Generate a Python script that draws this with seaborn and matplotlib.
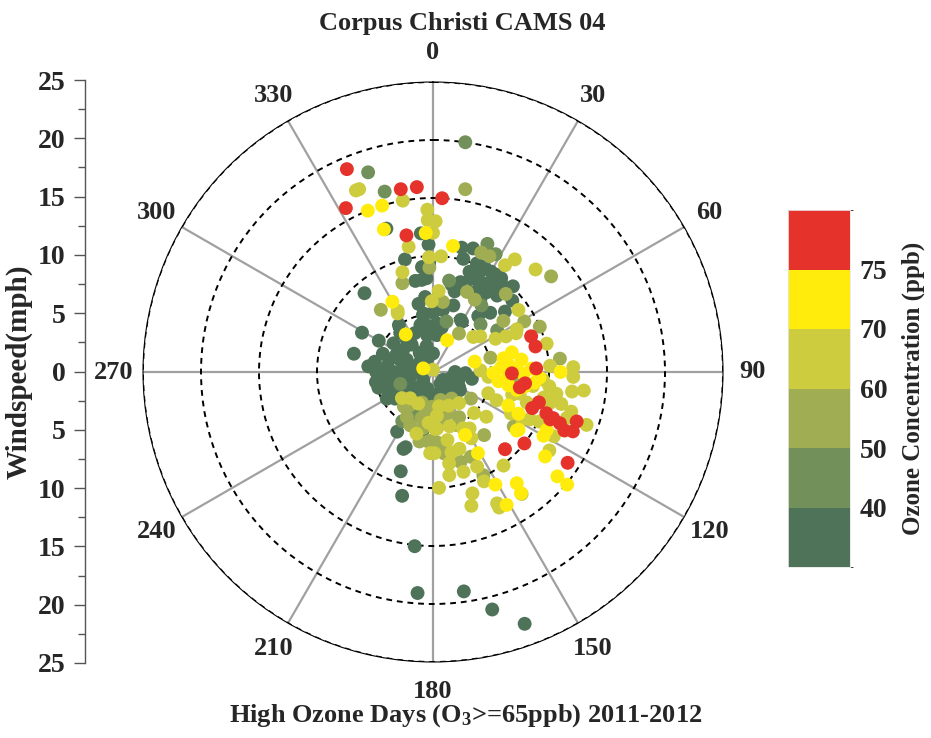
import numpy as np
import pandas as pd
import seaborn as sns
import matplotlib.pyplot as plt
from matplotlib.colors import ListedColormap, BoundaryNorm
from matplotlib.cm import ScalarMappable

# =========================================================
# DATA  (wind direction in degrees, wind speed in mph, ozone in ppb)
# =========================================================

# ozone < 40
dir_dark = [342, 355, 358, 13, 346, 15, 354, 349, 353, 319,
            351, 7, 9, 350, 0, 324, 30, 299, 283, 345,
            354, 5, 11, 335, 351, 6, 270, 260, 254, 277,
            286, 295, 307, 322, 270, 273, 285, 256, 255, 257,
            244, 240, 228, 211, 187, 235, 200, 148, 128, 110,
            90, 108, 92, 325, 346, 0, 295, 308, 318, 321,
            306, 320, 280, 270, 230, 265, 250, 290, 262, 248,
            300, 275, 240, 220, 290, 340, 120, 135, 160, 100,
            211, 200, 190, 201, 198, 194, 186, 184, 172, 166,
            160, 22, 26, 30, 33, 22, 27, 17, 12, 31,
            35, 36, 43, 48, 50, 17, 28, 39, 358, 356,
            354, 348, 0, 11, 34, 29, 15, 44, 20, 25,
            38, 24, 33, 40, 18, 138, 124]
spd_dark = [13.0, 12.0, 11.0, 11.0, 10.0, 10.1, 9.1, 8.0, 8.0, 9.0,
            5.1, 6.0, 5.4, 5.0, 5.1, 5.0, 5.0, 7.0, 7.0, 4.2,
            4.0, 4.2, 3.9, 3.7, 3.2, 3.2, 4.9, 5.0, 4.9, 4.0,
            3.9, 3.5, 3.2, 3.0, 3.4, 2.6, 1.8, 2.9, 2.1, 3.8,
            3.5, 2.8, 2.1, 2.2, 2.0, 4.0, 1.5, 1.2, 1.1, 1.6,
            1.9, 2.3, 2.8, 2.0, 2.3, 1.6, 2.5, 1.4, 0.8, 3.6,
            4.2, 4.4, 5.1, 1.4, 1.1, 4.3, 4.2, 4.6, 3.3, 2.5,
            5.4, 5.6, 4.6, 3.2, 3.0, 1.3, 2.6, 2.0, 1.8, 3.4,
            6.0, 6.9, 5.1, 7.1, 9.0, 11.0, 15.1, 19.1, 19.1, 21.1,
            23.1, 10.1, 10.1, 10.0, 10.0, 8.7, 8.7, 8.1, 7.7, 8.9,
            9.0, 10.0, 10.1, 9.2, 8.1, 6.0, 5.1, 6.2, 9.4, 8.1,
            6.5, 6.0, 3.6, 4.0, 8.3, 8.0, 7.2, 7.1, 9.2, 9.5,
            9.6, 7.6, 7.5, 8.6, 11.2, 1.3, 2.8]
oz_dark = [38, 38, 36, 38, 37, 38, 36, 38, 37, 35,
           38, 36, 38, 38, 37, 36, 38, 35, 34, 37,
           38, 36, 38, 37, 36, 38, 36, 35, 37, 36,
           38, 37, 36, 38, 37, 38, 36, 37, 38, 36,
           37, 38, 36, 37, 38, 36, 38, 37, 36, 38,
           37, 38, 36, 37, 38, 36, 37, 38, 36, 37,
           38, 36, 37, 38, 36, 37, 36, 38, 37, 36,
           38, 35, 37, 38, 36, 37, 38, 36, 37, 38,
           37, 38, 36, 37, 36, 37, 35, 36, 37, 36,
           38, 38, 37, 36, 38, 37, 36, 38, 37, 38,
           36, 37, 38, 37, 36, 38, 37, 36, 38, 37,
           36, 38, 37, 38, 36, 37, 38, 37, 36, 38,
           37, 36, 38, 37, 36, 38, 37]

# 40 - 50
dir_green = [8, 342, 345, 23, 36, 57, 212, 10, 28, 45, 15, 250, 200]
spd_green = [20.0, 18.1, 16.1, 12.0, 7.1, 6.6, 5.0, 8.0, 11.5, 5.8, 4.5, 3.0, 4.0]
oz_green = [46, 44, 45, 45, 46, 45, 46, 48, 46, 44, 47, 45, 46]

# 50 - 60
dir_olivegreen = [10, 22, 26, 358, 341, 320, 23, 30, 8, 51,
                  43, 61, 67, 54, 76, 34, 203, 156, 141, 191,
                  184, 178, 174, 172, 156, 163, 154, 124, 220, 194,
                  190, 181, 96, 84, 215, 182, 160, 150, 125, 170,
                  200, 190, 165, 145, 210]
spd_olivegreen = [16.0, 11.1, 11.1, 9.0, 8.1, 7.0, 7.5, 7.2, 6.1, 13.1,
                  9.2, 9.0, 10.0, 7.5, 5.1, 4.0, 5.0, 5.0, 7.0, 6.1,
                  6.0, 6.0, 6.2, 7.1, 8.0, 8.1, 9.9, 8.4, 3.9, 4.1,
                  4.9, 5.9, 7.0, 11.0, 3.5, 3.0, 3.8, 4.5, 4.0, 4.5,
                  2.8, 3.6, 2.5, 2.8, 4.5]
oz_olivegreen = [55, 55, 56, 55, 58, 55, 55, 55, 55, 58,
                 55, 58, 55, 55, 58, 58, 55, 55, 55, 55,
                 55, 56, 55, 58, 55, 55, 55, 55, 58, 58,
                 58, 58, 57, 57, 55, 56, 55, 57, 56, 55,
                 56, 57, 55, 58, 56]

# 60 - 70
dir_olive = [337, 338, 350, 358, 358, 1, 0, 349, 358, 4,
             343, 4, 330, 359, 329, 36, 34, 45, 54, 65,
             76, 49, 63, 64, 62, 53, 88, 92, 88, 95,
             98, 94, 97, 100, 103, 108, 104, 106, 114, 111,
             118, 116, 115, 109, 106, 105, 87, 97, 98, 104,
             109, 118, 118, 124, 143, 144, 154, 162, 164, 154,
             177, 152, 221, 178, 176, 163, 147, 182, 179, 167,
             161, 170, 155, 171, 163, 0, 155, 205, 230, 170,
             140, 175, 185, 155, 195, 168, 150, 135, 130]
spd_olive = [17.0, 17.0, 15.0, 14.0, 13.1, 13.0, 12.0, 11.0, 9.9, 10.0,
             9.0, 7.0, 6.1, 6.1, 5.9, 12.0, 11.1, 12.5, 9.1, 7.9,
             10.1, 4.6, 8.1, 7.0, 6.1, 5.1, 12.1, 12.1, 4.1, 4.8,
             8.7, 9.5, 10.1, 10.8, 9.8, 8.5, 7.7, 7.1, 6.0, 5.1,
             8.7, 9.3, 10.1, 12.2, 12.4, 10.4, 10.1, 13.1, 12.1, 11.4,
             14.0, 11.8, 7.6, 12.1, 10.1, 13.0, 13.0, 11.0, 12.0, 12.6,
             10.0, 5.5, 3.0, 4.9, 4.9, 4.9, 5.8, 7.0, 7.0, 7.1,
             7.0, 8.0, 9.0, 9.0, 9.0, 0.2, 10.4, 3.0, 3.5, 3.0,
             3.5, 3.8, 4.4, 3.2, 5.5, 6.0, 6.6, 5.0, 6.0]
oz_olive = [65, 62, 65, 65, 65, 63, 65, 65, 65, 65,
            65, 65, 65, 65, 64, 65, 62, 65, 65, 65,
            65, 65, 65, 64, 65, 66, 65, 62, 65, 64,
            65, 65, 66, 65, 64, 65, 65, 63, 65, 65,
            65, 64, 65, 65, 65, 66, 65, 65, 64, 65,
            65, 65, 64, 65, 65, 65, 65, 65, 65, 65,
            65, 65, 65, 65, 65, 62, 65, 65, 62, 62,
            65, 65, 65, 65, 65, 65, 62, 64, 62, 63,
            64, 65, 63, 64, 65, 62, 65, 64, 65]

# 70 - 75
dir_yellow = [338, 343, 341, 357, 9, 330, 324, 24, 290, 76,
              79, 86, 82, 88, 93, 90, 91, 98, 100, 99,
              114, 116, 117, 124, 120, 91, 76, 127, 130, 130,
              143, 144, 151, 151, 151, 153, 125, 84, 95, 88,
              102, 96]
spd_yellow = [15.0, 15.0, 13.0, 12.0, 11.0, 7.0, 4.0, 3.0, 0.9, 7.0,
              6.2, 5.9, 7.7, 7.2, 9.2, 11.0, 5.2, 5.7, 6.6, 8.0,
              7.1, 8.2, 11.0, 8.9, 11.0, 7.8, 3.7, 12.1, 14.0, 15.1,
              12.0, 12.9, 11.1, 13.1, 8.0, 6.1, 8.8, 6.5, 6.4, 8.5,
              7.4, 8.8]
oz_yellow = [72, 72, 73, 72, 72, 73, 72, 72, 73, 72,
             73, 72, 72, 74, 72, 73, 72, 72, 74, 72,
             73, 72, 72, 73, 72, 74, 72, 72, 73, 72,
             72, 73, 72, 72, 73, 72, 72, 73, 74, 73,
             72, 73]

# >= 75
dir_red = [337, 350, 355, 3, 332, 349, 70, 76, 91, 88,
           110, 106, 110, 111, 112, 114, 113, 109, 112, 128,
           137, 124, 100, 97]
spd_red = [19.0, 16.0, 16.0, 15.0, 16.0, 12.0, 9.0, 9.1, 6.8, 8.9,
           9.1, 9.5, 10.4, 11.1, 11.8, 12.4, 13.1, 13.1, 10.9, 10.0,
           9.1, 14.0, 7.6, 8.0]
oz_red = [78, 78, 77, 78, 80, 78, 78, 78, 77, 78,
          78, 78, 79, 78, 78, 79, 80, 78, 77, 80,
          78, 78, 77, 78]

band_edges = [30, 40, 50, 60, 70, 75, 80]
band_ticks = [40, 50, 60, 70, 75]
band_colors = ["#4f7359", "#71905a", "#a0ad52", "#cdcc3f", "#ffec0c", "#e5332b"]
angle_labels = ["0", "30", "60", "90", "120", "150",
                "180", "210", "240", "270", "300", "330"]

# =========================================================
# STYLE
# =========================================================

sns.set_style("white")
plt.rcParams["font.family"] = ["Liberation Serif", "DejaVu Serif"]
plt.rcParams["font.weight"] = "bold"
plt.rcParams["mathtext.fontset"] = "custom"
plt.rcParams["mathtext.rm"] = "Liberation Serif:bold"
plt.rcParams["mathtext.it"] = "Liberation Serif:bold"
plt.rcParams["mathtext.bf"] = "Liberation Serif:bold"

df = pd.DataFrame({
    "direction": dir_dark + dir_green + dir_olivegreen + dir_olive + dir_yellow + dir_red,
    "speed": spd_dark + spd_green + spd_olivegreen + spd_olive + spd_yellow + spd_red,
    "ozone": oz_dark + oz_green + oz_olivegreen + oz_olive + oz_yellow + oz_red,
})
df["theta"] = np.deg2rad(df["direction"])
df["band"] = pd.cut(df["ozone"], band_edges, labels=False).astype(int)

# =========================================================
# POLAR SCATTER
# =========================================================

fig = plt.figure(figsize=(9.31, 7.38), dpi=100)

ax = fig.add_axes([143 / 931, 76 / 738, 580 / 931, 580 / 738], projection="polar")

sns.scatterplot(
    data=df,
    x="theta",
    y="speed",
    hue="band",
    palette=dict(enumerate(band_colors)),
    s=100,
    linewidth=0,
    legend=False,
    ax=ax,
    zorder=3
)

ax.set_xlabel("")
ax.set_ylabel("")
ax.set_theta_zero_location("N")
ax.set_theta_direction(-1)
ax.set_ylim(0, 25)
ax.set_yticks([5, 10, 15, 20, 25])
ax.set_yticklabels([])
ax.set_xticks(np.deg2rad(np.arange(0, 360, 30)))
ax.set_xticklabels(angle_labels, fontsize=19, fontweight="bold")
ax.set_xticks(np.deg2rad(np.arange(0, 360, 10)), minor=True)
ax.tick_params(axis="x", which="major", pad=14, length=0)
ax.tick_params(axis="x", which="minor", length=5, width=0.8,
               direction="in", color="black")
ax.set_axisbelow(True)
ax.xaxis.grid(True, color="#a0a0a0", lw=1.6, ls="-")
ax.yaxis.grid(True, color="black", lw=1.4, ls=(0, (3, 2.5)))
ax.spines["polar"].set_linewidth(0.8)
ax.spines["polar"].set_color("black")

# =========================================================
# WINDSPEED SCALE (LEFT)
# =========================================================

ax_ws = fig.add_axes([85 / 931, 75 / 738, 0.02, 583 / 738])
ax_ws.patch.set_visible(False)
ax_ws.set_ylim(-25, 25)
ws_ticks = np.arange(-25, 26, 5)
ax_ws.set_yticks(ws_ticks)
ax_ws.set_yticklabels([str(abs(t)) for t in ws_ticks], fontsize=20, fontweight="bold")
ax_ws.set_yticks(np.arange(-22.5, 25, 5), minor=True)
ax_ws.set_xticks([])
for side in ["top", "right", "bottom"]:
    ax_ws.spines[side].set_visible(False)
ax_ws.spines["left"].set_color("#555555")
ax_ws.spines["left"].set_linewidth(1.0)
ax_ws.tick_params(axis="y", which="major", length=8, width=1,
                  color="#555555", direction="out", pad=6, left=True)
ax_ws.tick_params(axis="y", which="minor", length=5, width=1,
                  color="#555555", direction="out", left=True)
ax_ws.set_ylabel("Windspeed(mph)", fontsize=21, fontweight="bold", labelpad=4)

# =========================================================
# COLORBAR
# =========================================================

cax = fig.add_axes([788 / 931, 171 / 738, 62 / 931, 357 / 738])
cmap = ListedColormap(band_colors)
norm = BoundaryNorm(band_edges, cmap.N)
cb = fig.colorbar(ScalarMappable(norm=norm, cmap=cmap), cax=cax,
                  spacing="uniform", ticks=band_ticks)
cb.outline.set_edgecolor("#e6e6e6")
cb.outline.set_linewidth(0.6)
cax.tick_params(length=0, labelsize=20, pad=7)
for lab in cax.get_yticklabels():
    lab.set_fontweight("bold")
cb.set_label("Ozone Concentration (ppb)", fontsize=18, fontweight="bold", labelpad=10)

# =========================================================
# TITLES
# =========================================================

fig.text(0.497, 0.968, "Corpus Christi CAMS 04",
         ha="center", va="center", fontsize=19, fontweight="bold")
fig.text(0.500, 0.031, "High Ozone Days (O$_3$>=65ppb) 2011-2012",
         ha="center", va="center", fontsize=19, fontweight="bold")

fig.savefig("out.png", dpi=100)
